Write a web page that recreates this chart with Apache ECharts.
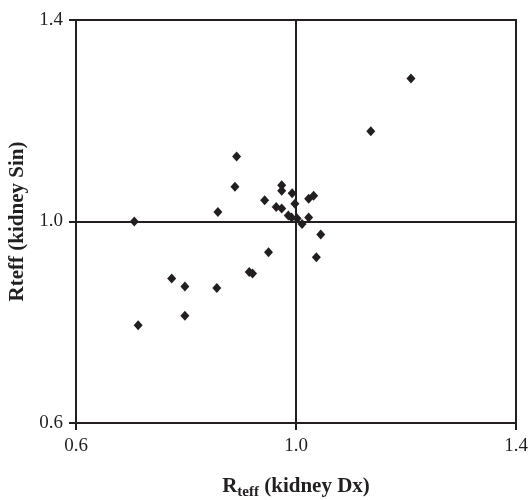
<!DOCTYPE html>
<html>
<head>
<meta charset="utf-8">
<style>
  html, body { margin: 0; padding: 0; background: #fff; }
  #chart { width: 529px; height: 500px; }
</style>
</head>
<body>
<div id="chart"></div>
<script src="https://cdn.jsdelivr.net/npm/echarts@6/dist/echarts.min.js"></script>
<script>
  // Rteff: kidney Dx (x) vs kidney Sin (y)
  var xVals = [1.209, 1.136, 0.892, 0.889, 0.858, 0.706, 0.713, 0.774, 0.798, 0.798,
               0.856, 0.915, 0.921, 0.950, 1.037, 1.045, 1.011, 1.023, 1.002, 0.992,
               0.986, 0.998, 0.993, 0.974, 0.974, 0.943, 0.964, 0.974, 1.023, 1.032];
  var yVals = [1.284, 1.179, 1.129, 1.069, 1.019, 1.000, 0.794, 0.887, 0.871, 0.813,
               0.868, 0.900, 0.897, 0.939, 0.929, 0.974, 0.995, 1.008, 1.006, 1.008,
               1.012, 1.035, 1.056, 1.072, 1.061, 1.042, 1.029, 1.026, 1.045, 1.051];

  var points = xVals.map(function (x, i) { return [x, yVals[i]]; });

  var ink = '#231f20';
  var serif = '"Liberation Serif", "DejaVu Serif", serif';

  var chart = echarts.init(document.getElementById('chart'));
  chart.setOption({
    animation: false,
    grid: {
      left: 76, right: 13, top: 20, bottom: 77,
      outerBoundsMode: 'none', containLabel: false,
      show: true, borderColor: ink, borderWidth: 2
    },
    xAxis: {
      type: 'value', min: 0.6, max: 1.4, interval: 0.4,
      name: '{r|R}{s|teff}{n| (kidney Dx)}',
      nameLocation: 'middle', nameGap: 51,
      nameTextStyle: {
        fontFamily: serif, fontWeight: 'bold', color: ink,
        rich: {
          r: { fontFamily: serif, fontWeight: 'bold', fontSize: 21, color: ink },
          s: { fontFamily: serif, fontWeight: 'bold', fontSize: 15, color: ink, padding: [11, 0, 0, 0] },
          n: { fontFamily: serif, fontWeight: 'bold', fontSize: 21, color: ink }
        }
      },
      axisLine: { show: true, lineStyle: { color: ink, width: 2 } },
      axisTick: { show: true, inside: false, length: 7, lineStyle: { color: ink, width: 2 } },
      axisLabel: {
        margin: 14,
        fontFamily: serif, fontSize: 19, color: ink,
        formatter: function (v) { return v.toFixed(1); }
      },
      splitLine: { show: false }
    },
    yAxis: {
      type: 'value', min: 0.6, max: 1.4, interval: 0.4,
      name: 'Rteff (kidney Sin)',
      nameLocation: 'middle', nameGap: 48, nameRotate: 90,
      nameTextStyle: { fontFamily: serif, fontWeight: 'bold', fontSize: 21, color: ink },
      axisLine: { show: true, lineStyle: { color: ink, width: 2 } },
      axisTick: { show: true, inside: false, length: 7, lineStyle: { color: ink, width: 2 } },
      axisLabel: {
        margin: 13,
        fontFamily: serif, fontSize: 19, color: ink,
        formatter: function (v) { return v.toFixed(1); }
      },
      splitLine: { show: false }
    },
    series: [{
      type: 'scatter',
      data: points,
      symbol: 'diamond',
      symbolSize: [9, 10],
      itemStyle: { color: ink, opacity: 1 },
      markLine: {
        silent: true,
        symbol: ['none', 'none'],
        label: { show: false },
        lineStyle: { color: ink, width: 2, type: 'solid', opacity: 1 },
        data: [{ xAxis: 1.0 }, { yAxis: 1.0 }]
      }
    }]
  });
</script>
</body>
</html>
